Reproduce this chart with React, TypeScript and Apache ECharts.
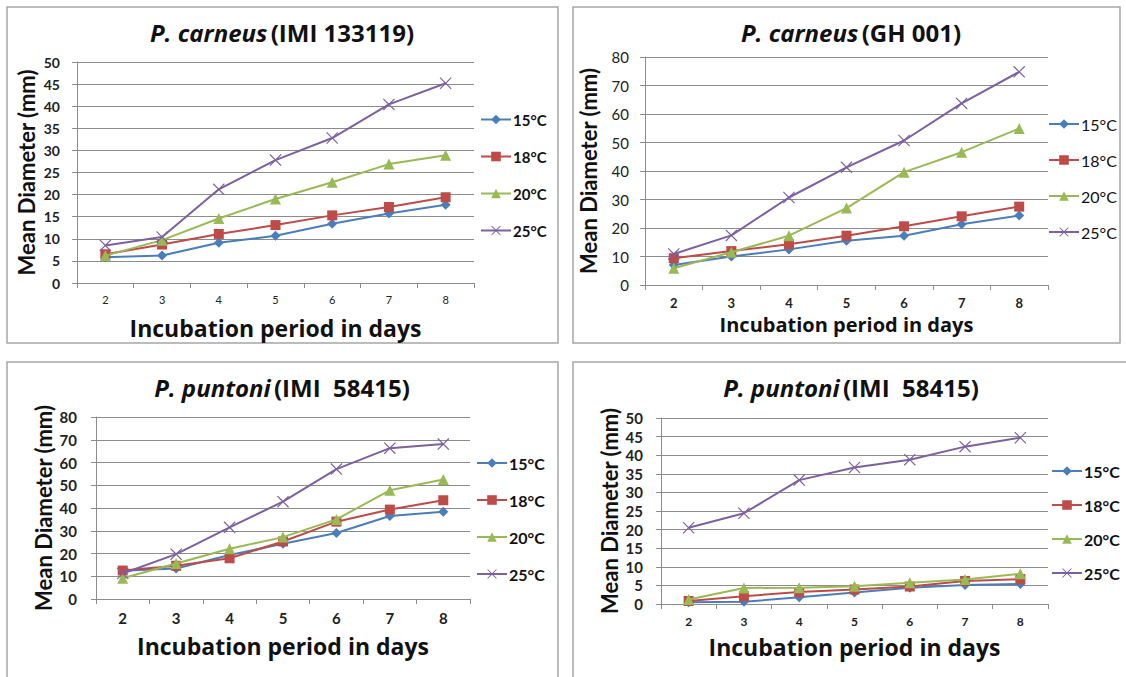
import React, { useEffect, useRef } from "react";
import * as echarts from "echarts";

// ---------- data ----------
const categories = ["2", "3", "4", "5", "6", "7", "8"];
const temps = ["15°C", "18°C", "20°C", "25°C"];

// P. carneus (IMI 133119)
const p1_15 = [5.8, 6.2, 9.1, 10.7, 13.4, 15.7, 17.7];
const p1_18 = [6.5, 8.7, 11.1, 13.1, 15.3, 17.2, 19.4];
const p1_20 = [6.2, 9.7, 14.6, 19.0, 22.8, 26.9, 28.9];
const p1_25 = [8.5, 10.4, 21.2, 27.8, 32.8, 40.4, 45.2];

// P. carneus (GH 001)
const p2_15 = [7.0, 10.0, 12.5, 15.5, 17.3, 21.3, 24.4];
const p2_18 = [9.4, 11.9, 14.3, 17.3, 20.6, 24.1, 27.5];
const p2_20 = [5.9, 11.5, 17.3, 27.0, 39.6, 46.6, 54.9];
const p2_25 = [10.9, 17.4, 30.7, 41.3, 50.7, 63.7, 74.8];

// P. puntoni (IMI 58415) - left
const p3_15 = [12.4, 13.4, 19.3, 24.3, 29.0, 36.5, 38.4];
const p3_18 = [12.5, 14.6, 17.9, 25.3, 34.0, 39.3, 43.4];
const p3_20 = [9.1, 15.6, 22.1, 27.2, 35.0, 47.8, 52.5];
const p3_25 = [11.2, 19.7, 31.5, 42.8, 57.1, 66.3, 68.1];

// P. puntoni (IMI 58415) - right
const p4_15 = [0.5, 0.6, 1.8, 3.1, 4.4, 5.1, 5.4];
const p4_18 = [0.8, 2.1, 3.2, 3.9, 4.7, 6.2, 6.7];
const p4_20 = [1.2, 4.3, 4.4, 4.8, 5.7, 6.6, 8.1];
const p4_25 = [20.5, 24.4, 33.3, 36.7, 38.8, 42.3, 44.7];

const titleItalic = ["P. carneus", "P. carneus", "P. puntoni", "P. puntoni"];
const titleRest = ["(IMI 133119)", "(GH 001)", "(IMI  58415)", "(IMI  58415)"];
const yMaxes = [50, 80, 80, 50];
const yIntervals = [5, 10, 10, 5];
const yTitle = "Mean Diameter (mm)";
const xTitle = "Incubation period in days";

const panelData = [
  [p1_15, p1_18, p1_20, p1_25],
  [p2_15, p2_18, p2_20, p2_25],
  [p3_15, p3_18, p3_20, p3_25],
  [p4_15, p4_18, p4_20, p4_25],
];

// ---------- styles / layout ----------
const FONT = 'Lato, "Open Sans", sans-serif';
const WFONT = '"Open Sans", Lato, sans-serif';
const colors = ["#4A7EBB", "#BE4B48", "#98B954", "#7D60A0"];
const XSYM =
  "path://M0,0.7L0.7,0L5,4.3L9.3,0L10,0.7L5.7,5L10,9.3L9.3,10L5,5.7L0.7,10L0,9.3L4.3,5Z";
const symbols = ["diamond", "rect", "triangle", XSYM];
const symbolSizes = [10, 10, 11, 12];
const GRIDC = "#8c8c8c";

const layouts = [
  {
    border: [7, 7, 551, 336],
    grid: { left: 77, top: 62, width: 397, height: 221 },
    title: [282, 32, 24],
    legend: { left: 480, top: 112, gap: 22, size: 15, weight: "bold" },
    yLab: { size: 14, weight: "bold", margin: 17 },
    xLab: { size: 11, weight: "normal", margin: 11 },
    yName: { gap: 40, size: 22 },
    xName: { gap: 33, size: 23 },
  },
  {
    border: [573, 7, 547, 336],
    grid: { left: 645, top: 57, width: 403, height: 228 },
    title: [851, 32, 24],
    legend: { left: 1048, top: 116, gap: 20, size: 16, weight: "normal" },
    yLab: { size: 15, weight: "normal", margin: 16 },
    xLab: { size: 13, weight: "bold", margin: 11 },
    yName: { gap: 46, size: 22 },
    xName: { gap: 29, size: 20 },
  },
  {
    border: [7, 362, 551, 330],
    grid: { left: 96, top: 417, width: 374, height: 182 },
    title: [282, 387, 24],
    legend: { left: 476, top: 455, gap: 21, size: 16, weight: "bold" },
    yLab: { size: 15, weight: "bold", margin: 19 },
    xLab: { size: 15, weight: "bold", margin: 11 },
    yName: { gap: 42, size: 22 },
    xName: { gap: 35, size: 23 },
  },
  {
    border: [573, 362, 560, 330],
    grid: { left: 661, top: 418, width: 387, height: 186 },
    title: [851, 387, 24],
    legend: { left: 1051, top: 463, gap: 18, size: 16, weight: "bold" },
    yLab: { size: 15, weight: "bold", margin: 18 },
    xLab: { size: 12, weight: "bold", margin: 11 },
    yName: { gap: 41, size: 22 },
    xName: { gap: 31, size: 23 },
  },
];

function buildOption() {
  const grid: any[] = [];
  const xAxis: any[] = [];
  const yAxis: any[] = [];
  const series: any[] = [];
  const legend: any[] = [];
  const graphic: any[] = [];

  layouts.forEach((L, i) => {
    graphic.push({
      type: "rect",
      z: -10,
      shape: { x: L.border[0], y: L.border[1], width: L.border[2], height: L.border[3] },
      style: { fill: "#fff", stroke: "#a6a6a6", lineWidth: 1.5 },
    });
    graphic.push({
      type: "text",
      z: 10,
      x: L.title[0],
      y: L.title[1],
      style: {
        text: `{i|${titleItalic[i]}} {n|${titleRest[i]}}`,
        align: "center",
        verticalAlign: "middle",
        rich: {
          i: { fontFamily: WFONT, fontSize: L.title[2], fontWeight: "bold", fontStyle: "italic", fill: "#111" },
          n: { fontFamily: WFONT, fontSize: L.title[2], fontWeight: "bold", fill: "#111" },
        },
      },
    });
    grid.push({ ...L.grid, containLabel: false });
    xAxis.push({
      type: "category",
      gridIndex: i,
      data: categories,
      boundaryGap: true,
      name: xTitle,
      nameLocation: "middle",
      nameGap: L.xName.gap,
      nameTextStyle: { fontFamily: WFONT, fontSize: L.xName.size, fontWeight: "bold", color: "#111" },
      axisLine: { show: true, lineStyle: { color: GRIDC, width: 1 } },
      axisTick: { show: true, alignWithLabel: false, length: 5, lineStyle: { color: GRIDC } },
      axisLabel: {
        fontFamily: FONT,
        fontSize: L.xLab.size,
        fontWeight: L.xLab.weight,
        color: "#222",
        margin: L.xLab.margin,
      },
      splitLine: { show: false },
    });
    yAxis.push({
      type: "value",
      gridIndex: i,
      min: 0,
      max: yMaxes[i],
      interval: yIntervals[i],
      name: yTitle,
      nameLocation: "middle",
      nameGap: L.yName.gap,
      nameTextStyle: { fontFamily: FONT, fontSize: L.yName.size, fontWeight: "bold", color: "#111" },
      axisLine: { show: true, lineStyle: { color: GRIDC, width: 1 } },
      axisTick: { show: true, length: 5, lineStyle: { color: GRIDC } },
      axisLabel: {
        fontFamily: FONT,
        fontSize: L.yLab.size,
        fontWeight: L.yLab.weight,
        color: "#222",
        margin: L.yLab.margin,
      },
      splitLine: { show: true, lineStyle: { color: GRIDC, width: 1 } },
    });
    panelData[i].forEach((d, j) => {
      series.push({
        type: "line",
        name: temps[j],
        xAxisIndex: i,
        yAxisIndex: i,
        data: d,
        symbol: symbols[j],
        symbolSize: symbolSizes[j],
        showAllSymbol: true,
        lineStyle: { color: colors[j], width: 2 },
        itemStyle: { color: colors[j], borderColor: colors[j], borderWidth: 0 },
        z: 3 + j,
      });
    });
    legend.push({
      orient: "vertical",
      left: L.legend.left,
      top: L.legend.top,
      padding: 0,
      itemGap: L.legend.gap,
      itemWidth: 30,
      itemHeight: 12,
      selectedMode: false,
      data: temps,
      textStyle: {
        fontFamily: FONT,
        fontSize: L.legend.size,
        fontWeight: L.legend.weight,
        color: "#111",
        padding: [0, 0, 0, -3],
      },
    });
  });

  return {
    animation: false,
    backgroundColor: "#fff",
    grid,
    xAxis,
    yAxis,
    series,
    legend,
    graphic,
  };
}

export default function App() {
  const ref = useRef<HTMLDivElement>(null);
  useEffect(() => {
    if (!ref.current) return;
    const chart = echarts.init(ref.current, null, { renderer: "svg" });
    chart.setOption(buildOption() as any);
    return () => chart.dispose();
  }, []);
  return (
    <div
      ref={ref}
      style={{ position: "fixed", left: 0, top: 0, width: 1126, height: 677, background: "#fff" }}
    />
  );
}
